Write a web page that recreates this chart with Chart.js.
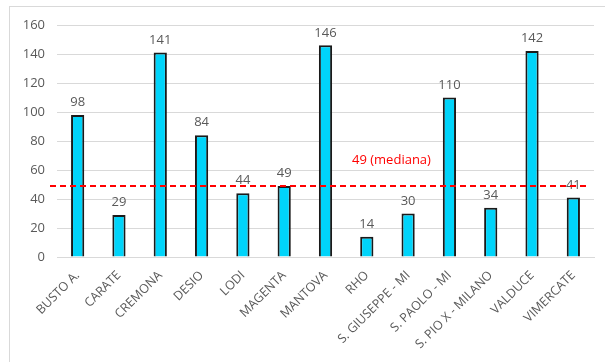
<!DOCTYPE html>
<html>
<head>
<meta charset="utf-8">
<script src="https://cdn.jsdelivr.net/npm/chart.js@4/dist/chart.umd.min.js"></script>
<style>
  body { margin: 0; background: #fff; }
  #wrap { position: relative; width: 605px; height: 362px; overflow: hidden; }
  #frame { position: absolute; left: 9px; top: 6px; width: 620px; height: 380px; border: 1px solid #d9d9d9; box-sizing: border-box; }
  canvas { position: absolute; left: 0; top: 0; }
</style>
</head>
<body>
<div id="wrap">
  <div id="frame"></div>
  <canvas id="c" width="605" height="362"></canvas>
</div>
<script>
  // dati
  const ospedali = ['BUSTO A.', 'CARATE', 'CREMONA', 'DESIO', 'LODI', 'MAGENTA', 'MANTOVA', 'RHO',
    'S. GIUSEPPE - MI', 'S. PAOLO - MI', 'S. PIO X - MILANO', 'VALDUCE', 'VIMERCATE'];
  const valori = [98, 29, 141, 84, 44, 49, 146, 14, 30, 110, 34, 142, 41];
  const mediana = 49;
  const etichettaMediana = '49 (mediana)';
  const tickY = [0, 20, 40, 60, 80, 100, 120, 140, 160];

  const grigio = '#595959';
  const font = 'Open Sans, sans-serif';

  // etichette sopra le barre + linea della mediana
  const extraPlugin = {
    id: 'extra',
    afterDatasetsDraw(chart) {
      const ctx = chart.ctx;
      const x = chart.scales.x, y = chart.scales.y;
      const meta = chart.getDatasetMeta(0);
      ctx.save();
      ctx.font = '13px ' + font;
      ctx.fillStyle = grigio;
      ctx.textAlign = 'center';
      ctx.textBaseline = 'bottom';
      meta.data.forEach((bar, i) => {
        ctx.fillText(String(valori[i]), bar.x, bar.y - 6);
      });
      // linea mediana
      const ym = y.getPixelForValue(mediana);
      ctx.strokeStyle = '#ff0000';
      ctx.lineWidth = 2;
      ctx.setLineDash([6, 4]);
      ctx.beginPath();
      ctx.moveTo(chart.chartArea.left - 7, ym);
      ctx.lineTo(chart.chartArea.right - 7, ym);
      ctx.stroke();
      ctx.setLineDash([]);
      ctx.fillStyle = '#ff0000';
      ctx.font = '13px ' + font;
      const xm = (x.getPixelForValue(7) + x.getPixelForValue(8)) / 2 + 4;
      ctx.textBaseline = 'middle';
      ctx.fillText(etichettaMediana, xm, y.getPixelForValue(mediana + 18));
      ctx.restore();
    }
  };

  new Chart(document.getElementById('c').getContext('2d'), {
    type: 'bar',
    data: {
      labels: ospedali,
      datasets: [{
        data: valori,
        backgroundColor: '#00d4fa',
        borderColor: '#1a1a1a',
        borderWidth: 2,
        categoryPercentage: 1,
        barPercentage: 0.32
      }]
    },
    options: {
      responsive: false,
      animation: false,
      layout: { padding: { left: 20, right: 11, top: 25, bottom: 0 } },
      plugins: { legend: { display: false }, tooltip: { enabled: false } },
      scales: {
        x: {
          grid: { display: false },
          border: { color: '#d9d9d9' },
          ticks: {
            color: grigio,
            font: { family: font, size: 12.5 },
            minRotation: 45,
            maxRotation: 45,
            autoSkip: false,
            padding: 3
          },
          afterFit(scale) { scale.height = 105; }
        },
        y: {
          min: 0,
          max: 160,
          afterBuildTicks(scale) { scale.ticks = tickY.map(v => ({ value: v })); },
          grid: { color: '#d9d9d9', drawTicks: false },
          border: { display: false },
          ticks: {
            color: grigio,
            font: { family: font, size: 13 },
            padding: 12
          },
          afterFit(scale) { scale.width = 37; }
        }
      }
    },
    plugins: [extraPlugin]
  });
</script>
</body>
</html>
